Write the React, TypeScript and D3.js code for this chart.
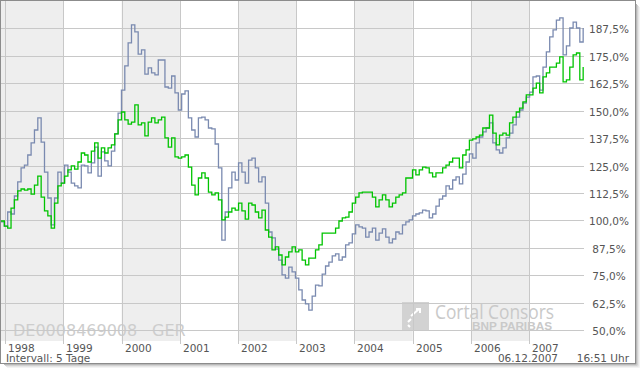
import React from "react";
import * as d3 from "d3";

// weekly closes, sampled every 21 days from 05.12.1997
const startDate = new Date(1997, 11, 5);
const endDate = new Date(2007, 11, 6);
const stepDays = 21;

// DAX (DE0008469008), in % of start
const daxValues = [
  99.3, 97.4, 103.8, 102.9, 111.1, 117.5, 123.9, 125.2, 129.8, 135.3,
  141.2, 146.7, 135.7, 122.0, 110.2, 97.9, 110.2, 122.0, 117.0, 125.2,
  122.0, 117.0, 115.7, 114.8, 125.2, 124.8, 121.6, 126.2, 133.4, 120.2,
  131.2, 127.1, 124.8, 131.6, 139.4, 148.9, 159.4, 170.4, 180.9, 189.1,
  185.9, 175.8, 177.7, 166.7, 169.5, 167.2, 166.3, 173.1, 173.1, 160.8,
  160.3, 165.8, 158.1, 150.3, 157.6, 159.0, 146.7, 141.2, 138.0, 146.7,
  147.1, 145.8, 142.1, 141.7, 134.8, 123.9, 91.0, 103.8, 114.8, 122.0,
  118.4, 126.2, 122.0, 117.0, 127.5, 128.4, 123.9, 117.5, 119.8, 107.9,
  94.7, 92.0, 86.9, 81.9, 75.1, 73.7, 78.7, 76.5, 73.7, 68.3,
  63.7, 61.9, 59.1, 65.5, 70.5, 70.1, 75.5, 79.2, 81.0, 83.8,
  84.7, 81.9, 83.3, 88.8, 89.7, 93.8, 97.9, 97.0, 96.5, 92.4,
  94.7, 96.5, 91.0, 94.2, 96.1, 92.4, 89.7, 91.5, 94.7, 93.8,
  97.9, 99.3, 100.2, 102.0, 102.9, 103.4, 104.7, 104.3, 101.1, 102.9,
  106.5, 109.7, 111.1, 115.7, 114.3, 118.4, 119.8, 116.6, 121.1, 126.6,
  130.3, 128.4, 135.3, 138.0, 140.3, 142.1, 144.4, 135.3, 132.1, 130.7,
  133.0, 137.6, 139.8, 143.5, 147.1, 150.3, 153.5, 156.2, 158.5, 165.4,
  165.8, 159.4, 169.9, 176.8, 183.6, 186.8, 191.3, 192.3, 175.4, 179.5,
  187.7, 190.4, 187.7, 181.3, 187.7,
];

// comparison series
const compValues = [
  99.7, 97.4, 96.5, 105.6, 109.3, 113.4, 114.3, 113.8, 114.3, 112.0,
  116.1, 120.2, 110.6, 104.3, 102.0, 96.5, 107.9, 115.7, 117.0, 120.2,
  123.0, 124.8, 123.4, 126.6, 130.7, 129.8, 126.6, 131.6, 135.3, 128.4,
  133.0, 130.7, 133.0, 134.4, 139.4, 145.8, 149.4, 145.8, 143.9, 144.8,
  152.6, 143.5, 144.4, 138.5, 144.8, 146.7, 144.4, 145.8, 147.1, 137.6,
  133.4, 137.6, 128.9, 128.4, 128.9, 129.8, 124.3, 116.1, 111.6, 119.3,
  121.6, 119.3, 112.9, 111.6, 112.5, 109.3, 100.2, 101.5, 103.8, 105.6,
  104.7, 107.9, 104.3, 100.6, 107.9, 107.0, 103.8, 101.1, 104.7, 95.6,
  92.4, 86.5, 87.9, 84.2, 79.7, 83.3, 85.6, 87.9, 85.6, 86.5,
  81.9, 79.7, 82.8, 82.8, 86.5, 88.8, 94.2, 94.2, 94.2, 94.2,
  96.5, 99.7, 101.1, 101.5, 103.8, 107.9, 110.6, 112.5, 112.9, 112.9,
  112.9, 110.6, 106.1, 109.3, 111.6, 109.3, 106.1, 107.9, 110.6, 111.6,
  112.5, 119.3, 119.3, 123.0, 120.7, 123.0, 124.3, 123.9, 121.6, 119.8,
  121.6, 121.6, 123.9, 125.2, 126.6, 128.4, 128.4, 123.9, 129.8, 132.1,
  136.6, 137.1, 138.0, 138.9, 142.1, 142.1, 148.0, 139.8, 134.4, 138.9,
  139.8, 138.9, 144.4, 147.1, 149.4, 151.2, 154.0, 157.2, 157.2, 160.3,
  162.6, 158.1, 165.4, 167.2, 169.9, 169.9, 171.7, 174.5, 163.1, 164.0,
  169.9, 175.4, 176.3, 164.0, 169.9,
];

const yearTicks = [1998, 1999, 2000, 2001, 2002, 2003, 2004, 2005, 2006, 2007];
const yTicks = [50, 62.5, 75, 87.5, 100, 112.5, 125, 137.5, 150, 162.5, 175, 187.5];

const W = 640;
const H = 370;
const font = "'DejaVu Sans', Verdana, sans-serif";

export default function App() {
  const x = d3.scaleTime().domain([startDate, endDate]).range([1, 583]);
  const y = d3.scaleLinear().domain([45, 200]).range([341, 1]);

  const dates = daxValues.map((_, i) => d3.timeDay.offset(startDate, i * stepDays));

  const line = d3
    .line<number>()
    .x((_, i) => x(dates[i]))
    .y((d) => y(d))
    .curve(d3.curveStepAfter);

  // alternating year bands
  const bounds = [startDate, ...yearTicks.slice(1).map((yr) => new Date(yr, 0, 1)), endDate];
  const bands = bounds.slice(0, -1).map((b, i) => ({ x0: x(b), x1: x(bounds[i + 1]), shade: i % 2 === 0 }));

  const fmt = (v: number) => v.toFixed(1).replace(".", ",") + "%";

  return (
    <svg width={W} height={H} style={{ position: "fixed", left: 0, top: 0, background: "#fff" }}>
      {/* shadow */}
      <g fill="none">
        <path d="M636.5,4 V364.5 H4" stroke="#b8b8b8" />
        <path d="M637.5,5 V365.5 H5" stroke="#d2d2d2" />
        <path d="M638.5,6 V366.5 H6" stroke="#e6e6e6" />
        <path d="M639.5,7 V367.5 H7" stroke="#f3f3f3" />
      </g>
      <rect x={0.5} y={0.5} width={635} height={363} fill="#fff" stroke="#8c8c8c" />

      {bands.map((b, i) =>
        b.shade ? <rect key={i} x={b.x0} y={1} width={b.x1 - b.x0} height={340} fill="#eeeeee" /> : null
      )}

      {/* watermark */}
      <g fill="#cdcdcd" fontFamily={font} fontSize={16}>
        <text x={13} y={336}>DE0008469008</text>
        <text x={152} y={336}>GER</text>
      </g>
      <g>
        <rect x={402} y={302} width={27} height={29} fill="#d2d2d2" />
        <path d="M411,316 l8,-7 M416,309 h4 v4 M408,322 l3,-3 M410,327 l-2,-2" stroke="#fff" strokeWidth={2} fill="none" />
        <text x={435} y={319} fill="#c9c9c9" fontFamily="'Open Sans', sans-serif" fontSize={20} textLength={119} lengthAdjust="spacingAndGlyphs">
          Cortal Consors
        </text>
        <text x={472} y={330} fill="#c9c9c9" fontFamily="'Liberation Sans', sans-serif" fontWeight="bold" fontSize={10} textLength={80} lengthAdjust="spacingAndGlyphs">
          BNP PARIBAS
        </text>
      </g>

      {/* grid */}
      <g stroke="#c8c8c8" strokeWidth={1}>
        {yTicks.map((t) => (
          <line key={t} x1={1} x2={584} y1={Math.round(y(t)) + 0.5} y2={Math.round(y(t)) + 0.5} />
        ))}
        {yearTicks.map((yr) => {
          const xx = Math.round(x(new Date(yr, 0, 1))) + 0.5;
          return <line key={yr} x1={xx} x2={xx} y1={1} y2={344} />;
        })}
      </g>

      {/* series */}
      <path d={line(daxValues) || ""} fill="none" stroke="#7a8ab0" strokeWidth={1.3} />
      <path d={line(compValues) || ""} fill="none" stroke="#00c400" strokeWidth={1.3} />

      {/* axis labels */}
      <g fill="#555" fontFamily={font} fontSize={10.5}>
        {yTicks.map((t) => (
          <text key={t} x={609} y={Math.round(y(t)) + 4.5} textAnchor="middle">
            {fmt(t)}
          </text>
        ))}
        {yearTicks.map((yr) => (
          <text key={yr} x={Math.round(x(new Date(yr, 0, 1))) + 3} y={351.5}>
            {yr}
          </text>
        ))}
        <text x={6} y={361.5}>Intervall: 5 Tage</text>
        <text x={558} y={361.5} textAnchor="end">06.12.2007</text>
        <text x={629} y={361.5} textAnchor="end">16:51 Uhr</text>
      </g>
    </svg>
  );
}
